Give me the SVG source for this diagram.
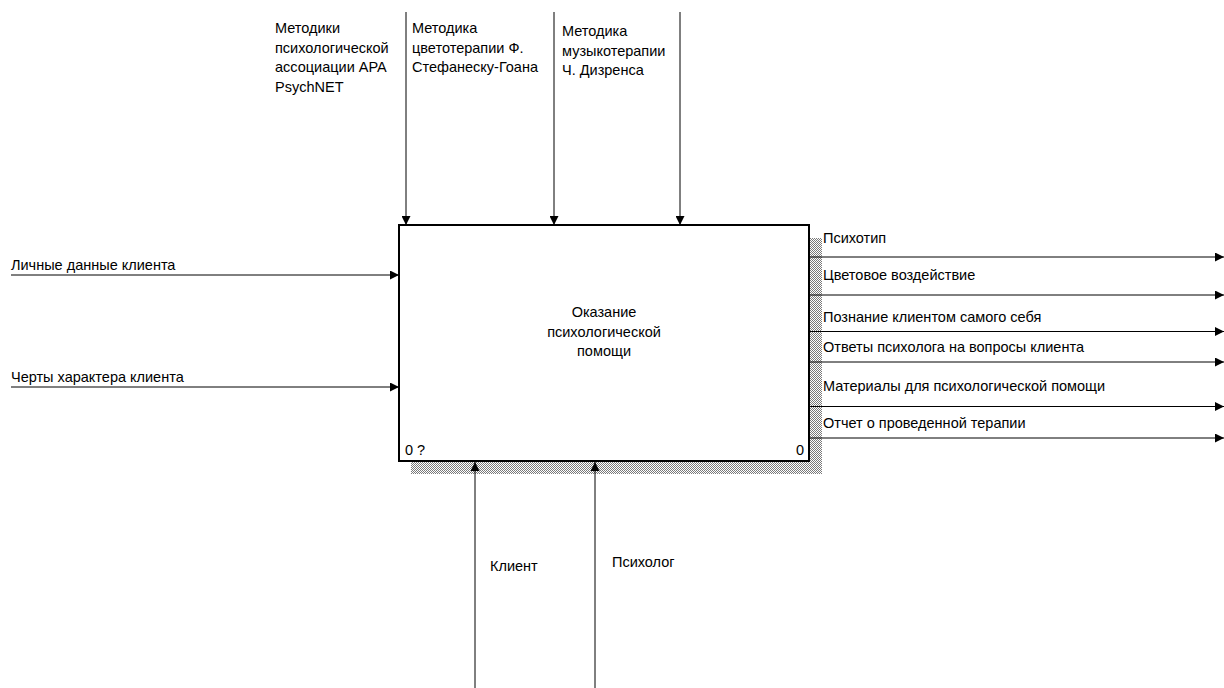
<svg xmlns="http://www.w3.org/2000/svg" width="1224" height="688" viewBox="0 0 1224 688">
<style>
text{font-family:"Liberation Sans",Arial,sans-serif;font-size:14.5px;fill:#000}
.ln{stroke:#000;stroke-width:1;fill:none}
.box{fill:#fff;stroke:#000;stroke-width:2}
</style>
<defs>
<pattern id="hatch" width="2" height="2" patternUnits="userSpaceOnUse">
<rect width="2" height="2" fill="#fff"/>
<rect x="0" y="0" width="1" height="1" fill="#7a7a7a"/>
<rect x="1" y="1" width="1" height="1" fill="#7a7a7a"/>
</pattern>
<marker id="arr" viewBox="0 0 10 10" refX="10" refY="5" markerWidth="10" markerHeight="9" markerUnits="userSpaceOnUse" orient="auto">
<path d="M0,0 L10,5 L0,10 Z" fill="#000"/>
</marker>
</defs>
<rect width="1224" height="688" fill="#fff"/>
<g id="node-A0">
<rect x="810" y="238" width="12" height="236" fill="url(#hatch)"/>
<rect x="411" y="462" width="411" height="12" fill="url(#hatch)"/>
<rect class="box" x="399" y="225" width="410" height="236"/>
<text x="604" y="317" text-anchor="middle">Оказание</text>
<text x="604" y="336.5" text-anchor="middle">психологической</text>
<text x="604" y="356" text-anchor="middle">помощи</text>
<text x="405" y="455">0 ?</text>
<text x="804" y="455" text-anchor="end">0</text>
</g>
<g id="connectors">
<line class="ln" x1="406" y1="12" x2="406" y2="225" marker-end="url(#arr)"/>
<line class="ln" x1="554" y1="12" x2="554" y2="225" marker-end="url(#arr)"/>
<line class="ln" x1="680" y1="12" x2="680" y2="225" marker-end="url(#arr)"/>
<line class="ln" x1="11" y1="275" x2="399" y2="275" marker-end="url(#arr)"/>
<line class="ln" x1="11" y1="387" x2="399" y2="387" marker-end="url(#arr)"/>
<line class="ln" x1="810" y1="257" x2="1224" y2="257" marker-end="url(#arr)"/>
<line class="ln" x1="810" y1="295" x2="1224" y2="295" marker-end="url(#arr)"/>
<line class="ln" x1="810" y1="331.5" x2="1224" y2="331.5" marker-end="url(#arr)"/>
<line class="ln" x1="810" y1="362" x2="1224" y2="362" marker-end="url(#arr)"/>
<line class="ln" x1="810" y1="406.5" x2="1224" y2="406.5" marker-end="url(#arr)"/>
<line class="ln" x1="810" y1="438" x2="1224" y2="438" marker-end="url(#arr)"/>
<line class="ln" x1="475" y1="688" x2="475" y2="462" marker-end="url(#arr)"/>
<line class="ln" x1="595" y1="688" x2="595" y2="462" marker-end="url(#arr)"/>
</g>
<g id="labels">
<text x="275" y="33">Методики</text>
<text x="275" y="52.5">психологической</text>
<text x="275" y="72">ассоциации APA</text>
<text x="275" y="91.5">PsychNET</text>
<text x="412" y="33">Методика</text>
<text x="412" y="52.5">цветотерапии Ф.</text>
<text x="412" y="72">Стефанеску-Гоана</text>
<text x="562" y="36">Методика</text>
<text x="562" y="55.5">музыкотерапии</text>
<text x="562" y="75">Ч. Дизренса</text>
<text x="11" y="270">Личные данные клиента</text>
<text x="11" y="382">Черты характера клиента</text>
<text x="823" y="243">Психотип</text>
<text x="823" y="280">Цветовое воздействие</text>
<text x="823" y="322">Познание клиентом самого себя</text>
<text x="823" y="352">Ответы психолога на вопросы клиента</text>
<text x="823" y="391">Материалы для психологической помощи</text>
<text x="823" y="428">Отчет о проведенной терапии</text>
<text x="490" y="571">Клиент</text>
<text x="612" y="567">Психолог</text>
</g>
</svg>
